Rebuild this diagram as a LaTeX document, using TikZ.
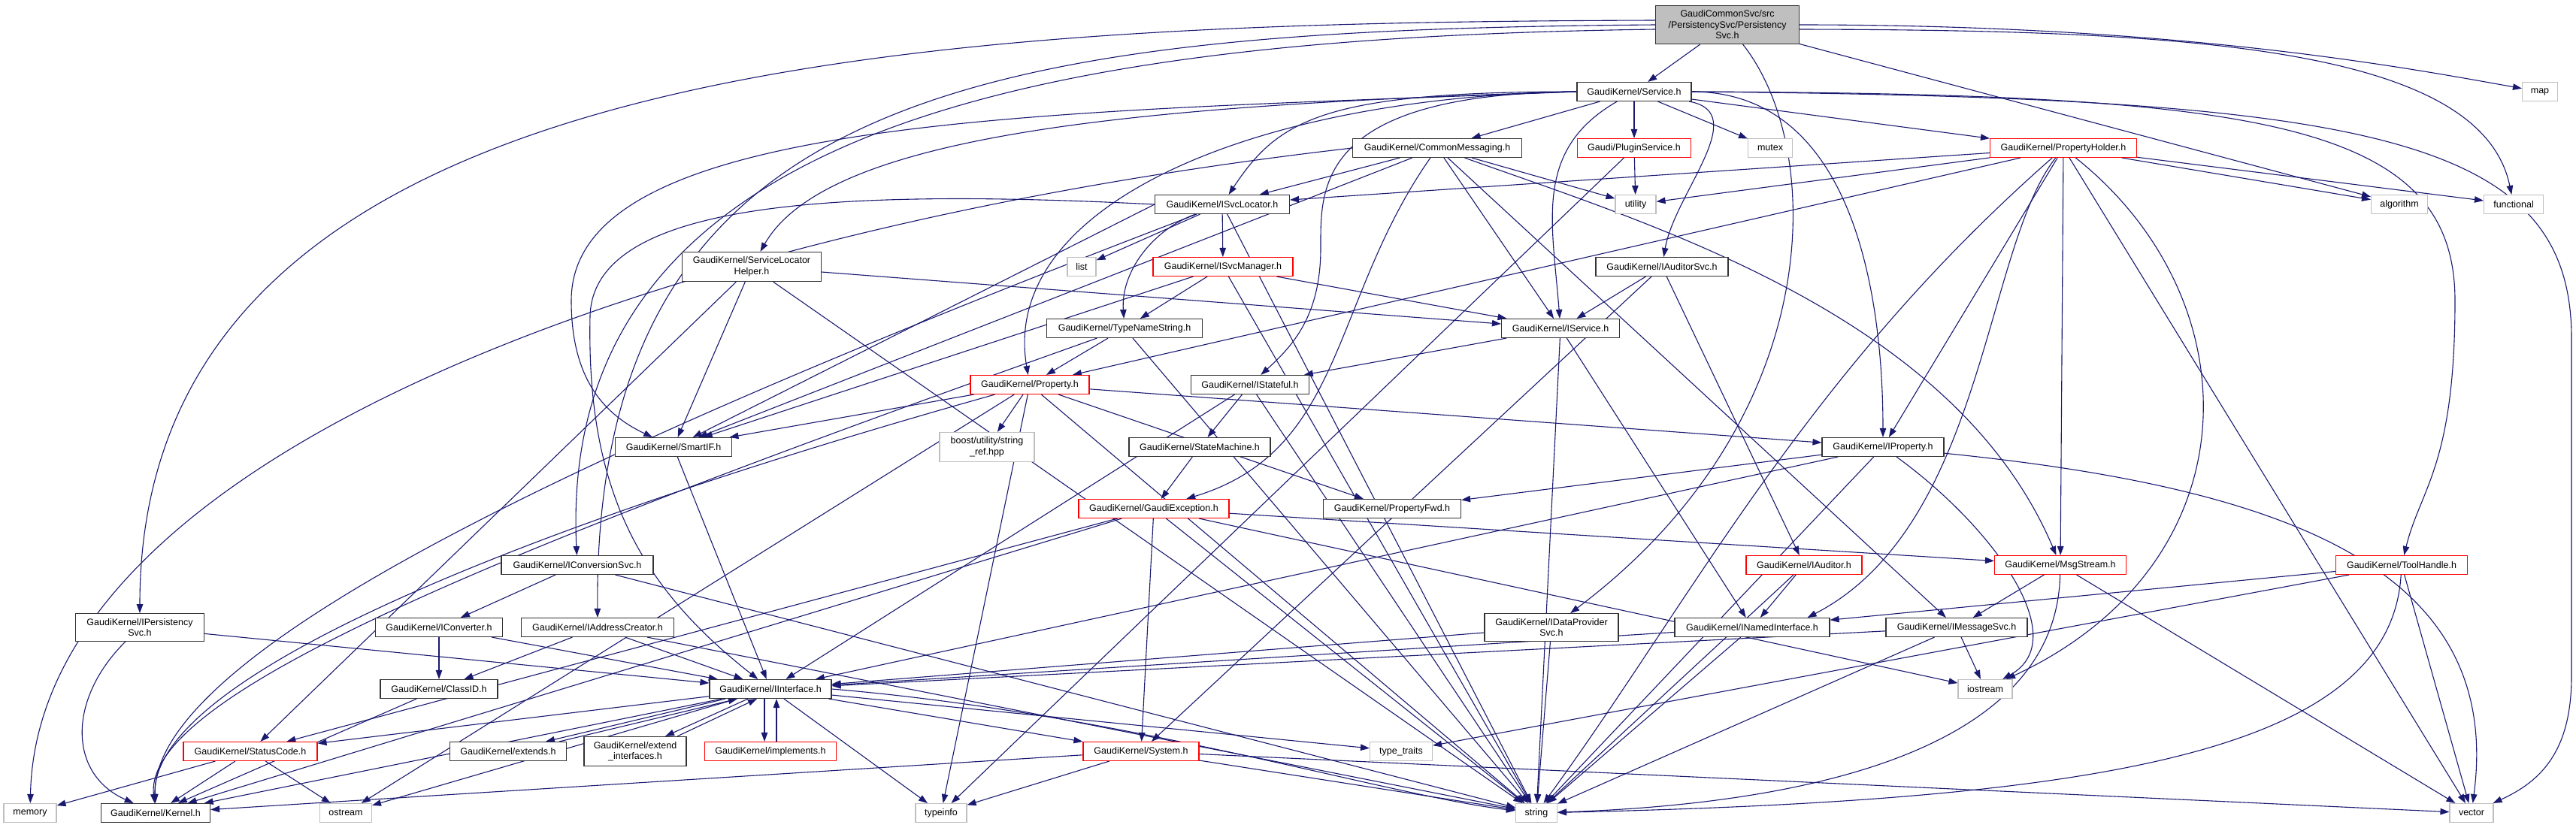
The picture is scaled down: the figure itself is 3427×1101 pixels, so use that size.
\documentclass[tikz,border=0pt]{standalone}
\usepackage{fontspec}
\setmainfont{Liberation Sans}
\usetikzlibrary{arrows.meta,backgrounds}

\definecolor{edgeblue}{RGB}{25,25,112}
\tikzset{
  hdr/.style={draw=black!80, line width=1.1pt, fill=white, inner xsep=0pt, inner ysep=6.5pt,
    minimum height=25pt, align=center, font=\fontsize{12.5}{14.5}\selectfont},
  redhdr/.style={hdr, draw=red},
  syshdr/.style={hdr, draw=black!25},
  roothdr/.style={hdr, fill=black!25},
  dep/.style={draw=edgeblue, line width=1.1pt, -{Triangle[length=12pt,width=8.5pt]}},
  wd/.style={minimum width=#1pt},
}

\begin{document}
\begin{tikzpicture}[x=1pt,y=-1pt]
\useasboundingbox (0,0) rectangle (3427,1101);

\node[roothdr,wd=191] (root) at (2298,33) {GaudiCommonSvc/src\\/PersistencySvc/Persistency\\Svc.h};
\node[hdr,wd=152] (svc) at (2174,122) {GaudiKernel/Service.h};
\node[syshdr,wd=47] (map) at (3379,122) {map};
\node[hdr,wd=225] (cmsg) at (1912,197) {GaudiKernel/CommonMessaging.h};
\node[redhdr,wd=151] (plug) at (2174,197) {Gaudi/PluginService.h};
\node[syshdr,wd=59] (mutex) at (2355,197) {mutex};
\node[redhdr,wd=195] (pholder) at (2745,197) {GaudiKernel/PropertyHolder.h};
\node[hdr,wd=179] (isl) at (1626,272) {GaudiKernel/ISvcLocator.h};
\node[syshdr,wd=54] (util) at (2176,272) {utility};
\node[syshdr,wd=75] (algo) at (3192,272) {algorithm};
\node[syshdr,wd=79] (func) at (3344,272) {functional};
\node[hdr,wd=185] (slh) at (1000,355) {GaudiKernel/ServiceLocator\\Helper.h};
\node[syshdr,wd=38] (list) at (1439,355) {list};
\node[redhdr,wd=186] (ism) at (1627,355) {GaudiKernel/ISvcManager.h};
\node[hdr,wd=176] (iaudsvc) at (2211,355) {GaudiKernel/IAuditorSvc.h};
\node[hdr,wd=207] (tns) at (1496,437) {GaudiKernel/TypeNameString.h};
\node[hdr,wd=157] (isvc) at (2076,437) {GaudiKernel/IService.h};
\node[redhdr,wd=158] (prop) at (1370,512) {GaudiKernel/Property.h};
\node[hdr,wd=157] (istf) at (1663,512) {GaudiKernel/IStateful.h};
\node[hdr,wd=155] (smartif) at (896,595) {GaudiKernel/SmartIF.h};
\node[syshdr,wd=126] (boost) at (1313,595) {boost/utility/string\\\_ref.hpp};
\node[hdr,wd=188] (sm) at (1596,595) {GaudiKernel/StateMachine.h};
\node[hdr,wd=162] (iprop) at (2505,595) {GaudiKernel/IProperty.h};
\node[redhdr,wd=200] (gex) at (1535,677) {GaudiKernel/GaudiException.h};
\node[hdr,wd=183] (pfwd) at (1852,677) {GaudiKernel/PropertyFwd.h};
\node[hdr,wd=202] (iconvsvc) at (768,752) {GaudiKernel/IConversionSvc.h};
\node[redhdr,wd=154] (iaud) at (2400,752) {GaudiKernel/IAuditor.h};
\node[redhdr,wd=175] (msg) at (2741,752) {GaudiKernel/MsgStream.h};
\node[redhdr,wd=175] (tool) at (3195,752) {GaudiKernel/ToolHandle.h};
\node[hdr,wd=171] (ipers) at (186,835) {GaudiKernel/IPersistency\\Svc.h};
\node[hdr,wd=169] (iconv) at (584,835) {GaudiKernel/IConverter.h};
\node[hdr,wd=203] (iaddr) at (795,835) {GaudiKernel/IAddressCreator.h};
\node[hdr,wd=178] (idp) at (2064,835) {GaudiKernel/IDataProvider\\Svc.h};
\node[hdr,wd=206] (inamed) at (2331,835) {GaudiKernel/INamedInterface.h};
\node[hdr,wd=188] (imsg) at (2603,835) {GaudiKernel/IMessageSvc.h};
\node[hdr,wd=156] (clid) at (584,917) {GaudiKernel/ClassID.h};
\node[hdr,wd=162] (iif) at (1025,917) {GaudiKernel/IInterface.h};
\node[syshdr,wd=72] (iostream) at (2641,917) {iostream};
\node[redhdr,wd=178] (sc) at (333,1000) {GaudiKernel/StatusCode.h};
\node[hdr,wd=155] (extends) at (676,1000) {GaudiKernel/extends.h};
\node[hdr,wd=136] (extif) at (845,1000) {GaudiKernel/extend\\\_interfaces.h};
\node[redhdr,wd=175] (impl) at (1025,1000) {GaudiKernel/implements.h};
\node[redhdr,wd=154] (sys) at (1518,1000) {GaudiKernel/System.h};
\node[syshdr,wd=83] (ttraits) at (1864,1000) {type\_traits};
\node[syshdr,wd=70] (memory) at (40,1082) {memory};
\node[hdr,wd=145] (kernel) at (207,1082) {GaudiKernel/Kernel.h};
\node[syshdr,wd=69] (ostream) at (460,1082) {ostream};
\node[syshdr,wd=68] (typeinfo) at (1252,1082) {typeinfo};
\node[syshdr,wd=55] (string) at (2044,1082) {string};
\node[syshdr,wd=58] (vector) at (3288,1082) {vector};

\begin{pgfonlayer}{background}
% root header
\draw[dep] (root) -- (svc);
\draw[dep] ([yshift=6pt]root.west) .. controls (1200,30) and (186,80) .. (ipers);
\draw[dep] (root.west) .. controls (1300,40) and (790,120) .. (iaddr);
\draw[dep] ([yshift=-6pt]root.west) .. controls (1400,50) and (740,160) .. (iconvsvc);
\draw[dep] (root.east) .. controls (2900,33) and (3200,90) .. (map);
\draw[dep] ([yshift=-6pt]root.east) .. controls (2900,40) and (3300,60) .. (func);
\draw[dep] (root) -- (algo);
\draw[dep] (root) .. controls (2430,200) and (2430,560) .. (idp);
% Service.h
\draw[dep] (svc) -- (cmsg);
\draw[dep] (svc) -- (plug);
\draw[dep] (svc) -- (mutex);
\draw[dep] (svc) -- (pholder);
\draw[dep] (svc) .. controls (2331,150) and (2228,257) .. (iaudsvc);
\draw[dep] (svc) .. controls (2040,199) and (2065,295) .. (isvc);
\draw[dep] (svc.west) .. controls (1760,122) and (1700,160) .. (isl);
\draw[dep] (svc.west) .. controls (1500,140) and (1100,180) .. (slh);
\draw[dep] (svc.west) .. controls (1400,150) and (760,150) .. (760,400) .. controls (760,500) and (800,550) .. (smartif);
\draw[dep] (svc.west) .. controls (1650,130) and (1330,280) .. (prop);
\draw[dep] (svc.west) .. controls (1750,125) and (1757,250) .. (1757,330) .. controls (1757,420) and (1720,460) .. (istf);
\draw[dep] (svc.east) .. controls (2460,122) and (2505,380) .. (iprop);
\draw[dep] (svc.east) .. controls (3000,125) and (3266,160) .. (3266,400) .. controls (3266,620) and (3220,650) .. (tool);
\draw[dep] (svc.east) .. controls (3150,130) and (3421,180) .. (3421,450) -- (3421,900) .. controls (3421,1000) and (3380,1040) .. (vector);
% CommonMessaging.h
\draw[dep] (cmsg) -- (isl);
\draw[dep] (cmsg) -- (isvc);
\draw[dep] (cmsg) -- (util);
\draw[dep] (cmsg) .. controls (2200,300) and (2600,420) .. (msg);
\draw[dep] (cmsg) -- (imsg);
\draw[dep] (cmsg) .. controls (1770,400) and (1790,600) .. (gex);
\draw[dep] (cmsg) -- (smartif);
\draw[dep] (cmsg.west) .. controls (900,300) and (50,600) .. (memory);
% PluginService.h
\draw[dep] (plug) -- (util);
\draw[dep] (plug) -- (typeinfo);
% PropertyHolder.h
\draw[dep] (pholder) -- (isl);
\draw[dep] (pholder) -- (util);
\draw[dep] (pholder) -- (prop);
\draw[dep] (pholder) -- (iprop);
\draw[dep] (pholder) .. controls (2640,330) and (2640,700) .. ([xshift=-30pt]inamed.north east);
\draw[dep] (pholder) -- (msg);
\draw[dep] (pholder) -- (algo);
\draw[dep] (pholder) -- (func);
\draw[dep] (pholder) -- (vector);
\draw[dep] (pholder) .. controls (3000,400) and (3000,750) .. (iostream);
\draw[dep] (pholder) .. controls (2400,500) and (2250,800) .. (string);
% ISvcLocator.h, ISvcManager.h, TypeNameString.h
\draw[dep] (isl) -- (list);
\draw[dep] (isl) -- (ism);
\draw[dep] (isl) .. controls (1533,306) and (1491,362) .. (tns);
\draw[dep] (isl.west) -- (smartif);
\draw[dep] (isl.west) .. controls (1100,250) and (790,270) .. (785,420) .. controls (780,650) and (850,780) .. (iif);
\draw[dep] (isl) .. controls (900,550) and (200,850) .. (kernel);
\draw[dep] (isl) -- (string);
\draw[dep] (ism) -- (tns);
\draw[dep] (ism) -- (smartif);
\draw[dep] (ism) -- (isvc);
\draw[dep] (ism) -- (string);
\draw[dep] (tns) -- (prop);
\draw[dep] (tns) -- (string);
\draw[dep] (tns) .. controls (700,720) and (190,920) .. (kernel);
% Property.h
\draw[dep] (prop) .. controls (700,700) and (200,900) .. (kernel);
\draw[dep] (prop) -- (smartif);
\draw[dep] (prop) -- (iprop);
\draw[dep] (prop) -- (pfwd);
\draw[dep] (prop) -- (boost);
\draw[dep] (prop) -- (typeinfo);
\draw[dep] (prop) -- (string);
\draw[dep] (prop) -- (ostream);
% IStateful.h, StateMachine.h, GaudiException.h
\draw[dep] (istf) -- (sm);
\draw[dep] (istf) -- (iif);
\draw[dep] (istf) -- (string);
\draw[dep] (sm) -- (gex);
\draw[dep] (gex) -- (kernel);
\draw[dep] (gex) -- (sc);
\draw[dep] (gex) -- (sys);
\draw[dep] (gex) -- (string);
\draw[dep] (gex) -- (msg);
\draw[dep] (gex) -- (iostream);
% IService.h, IAuditorSvc.h, ServiceLocatorHelper.h
\draw[dep] (isvc) -- (istf);
\draw[dep] (isvc) -- (inamed);
\draw[dep] (isvc) -- (string);
\draw[dep] (iaudsvc) -- (isvc);
\draw[dep] (iaudsvc) -- (iaud);
\draw[dep] (iaudsvc) -- (sys);
\draw[dep] (slh) -- (isvc);
\draw[dep] (slh) -- (smartif);
\draw[dep] (slh) -- (sc);
\draw[dep] (slh) -- (string);
\draw[dep] (smartif) -- (iif);
% converters and persistency
\draw[dep] (iconvsvc) -- (iconv);
\draw[dep] (iconvsvc) -- (string);
\draw[dep] (iconv) -- (clid);
\draw[dep] (iconv) -- (iif);
\draw[dep] (iaddr) -- (clid);
\draw[dep] (iaddr) -- (iif);
\draw[dep] (iaddr) -- (string);
\draw[dep] (clid) -- (kernel);
\draw[dep] (ipers) -- (iif);
\draw[dep] (ipers) .. controls (90,930) and (90,1030) .. (kernel);
\draw[dep] (idp) -- (iif);
\draw[dep] (idp) -- (string);
% IInterface.h
\draw[dep] (iif) -- (kernel);
\draw[dep] (iif) -- (sc);
\draw[dep] (iif) -- (sys);
\draw[dep] (iif) -- (ostream);
\draw[dep] (iif) -- (ttraits);
\draw[dep] (iif) -- (typeinfo);
\draw[dep] (iif.east) .. controls (1500,950) and (1850,1060) .. (string);
\draw[dep] ([xshift=-60pt]iif.south) -- ([xshift=50pt]extends.north);
\draw[dep] ([xshift=68pt]extends.north) -- ([xshift=-44pt]iif.south);
\draw[dep] ([xshift=-30pt]iif.south) -- ([xshift=40pt]extif.north);
\draw[dep] ([xshift=56pt]extif.north) -- ([xshift=-18pt]iif.south);
\draw[dep] ([xshift=-8pt]iif.south) -- ([xshift=-8pt]impl.north);
\draw[dep] ([xshift=8pt]impl.north) -- ([xshift=8pt]iif.south);
\draw[dep] (sc) -- (kernel);
\draw[dep] (sc) -- (memory);
\draw[dep] (sc) -- (ostream);
\draw[dep] (sys) -- (typeinfo);
\draw[dep] (sys) -- (kernel);
\draw[dep] (sys) -- (string);
\draw[dep] (sys) -- (vector);
% IProperty.h and the messaging side
\draw[dep] (iprop) -- (pfwd);
\draw[dep] (iprop) -- (iif);
\draw[dep] (iprop) .. controls (2650,700) and (2760,850) .. (iostream);
\draw[dep] (iprop) -- (string);
\draw[dep] (iprop) .. controls (3050,650) and (3330,760) .. (vector);
\draw[dep] (iaud) -- (inamed);
\draw[dep] (iaud) -- (string);
\draw[dep] (inamed) -- (iif);
\draw[dep] (inamed) -- (string);
\draw[dep] (imsg) -- (iif);
\draw[dep] (imsg) -- (iostream);
\draw[dep] (imsg) -- (string);
\draw[dep] (msg) -- (imsg);
\draw[dep] (msg) .. controls (2735,1000) and (2400,1070) .. (string);
\draw[dep] (msg) -- (vector);
\draw[dep] (tool) -- (inamed);
\draw[dep] (tool) -- (ttraits);
\draw[dep] (tool) .. controls (3180,1000) and (2800,1065) .. (string);
\draw[dep] (tool) -- (vector);
\end{pgfonlayer}
\end{tikzpicture}
\end{document}
